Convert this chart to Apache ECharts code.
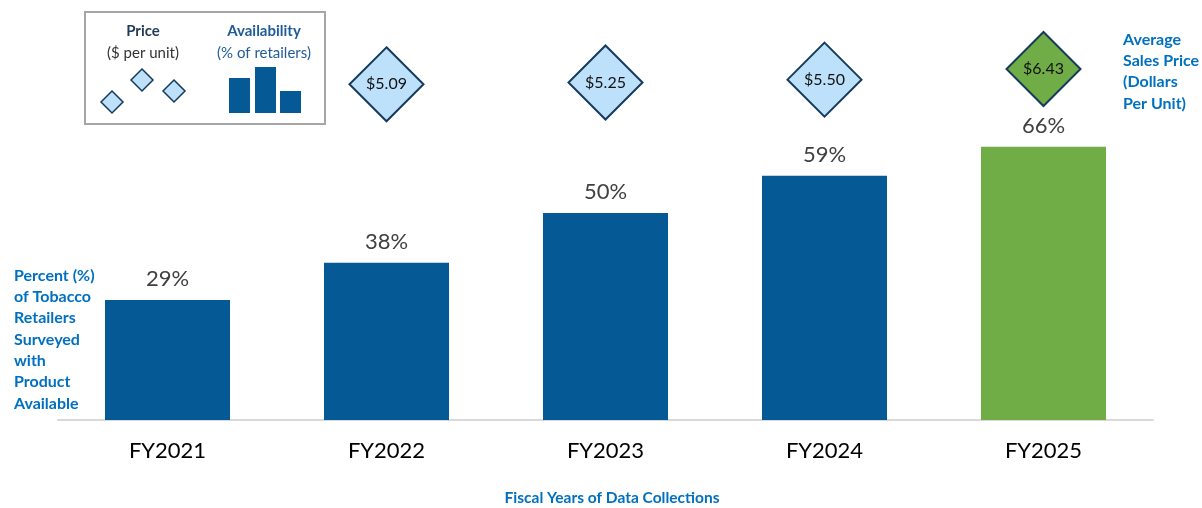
<!DOCTYPE html>
<html>
<head>
<meta charset="utf-8">
<script src="https://cdn.jsdelivr.net/npm/echarts@6/dist/echarts.min.js"></script>
<style>
  html, body { margin: 0; padding: 0; background: #fff; }
  #chart { width: 1202px; height: 508px; }
</style>
</head>
<body>
<div id="chart"></div>
<script>
// data
var years = ['FY2021', 'FY2022', 'FY2023', 'FY2024', 'FY2025'];
var availability = [29, 38, 50, 59, 66];
var prices = [null, 5.09, 5.25, 5.50, 6.43];

var BLUE = '#055A96';
var GREEN = '#70AD47';
var LIGHT = '#BDE1FB';
var NAVY = '#163A5C';
var LABEL_BLUE = '#0070C0';
var FONT = 'Lato, "Open Sans", sans-serif';

var last = years.length - 1;

var chart = echarts.init(document.getElementById('chart'));

chart.setOption({
  animation: false,
  textStyle: { fontFamily: FONT },
  grid: { left: 58, right: 49, top: 6, bottom: 88 },
  xAxis: {
    type: 'category',
    data: years,
    axisLine: { lineStyle: { color: '#D9D9D9', width: 2 } },
    axisTick: { show: false },
    axisLabel: { color: '#000', fontSize: 22, margin: 20, fontFamily: FONT }
  },
  yAxis: [
    { type: 'value', min: 0, max: 100, show: false },
    { type: 'value', min: -24.36, max: 11.96, show: false }
  ],
  series: [
    {
      type: 'bar',
      barWidth: 125,
      data: availability.map(function (v, i) {
        return { value: v, itemStyle: { color: i === last ? GREEN : BLUE } };
      }),
      label: {
        show: true,
        position: 'top',
        distance: 10,
        color: '#404040',
        fontSize: 22,
        fontFamily: FONT,
        formatter: '{c}%'
      }
    },
    {
      type: 'scatter',
      yAxisIndex: 1,
      symbol: 'diamond',
      symbolSize: 74,
      data: prices.map(function (v, i) {
        return { value: v, itemStyle: { color: i === last ? GREEN : LIGHT } };
      }),
      itemStyle: { borderColor: NAVY, borderWidth: 2, opacity: 1 },
      label: {
        show: true,
        position: 'inside',
        color: '#111',
        fontSize: 16,
        fontFamily: FONT,
        formatter: function (p) { return '$' + p.value.toFixed(2); }
      },
      z: 5
    }
  ],
  graphic: [
    // legend box
    { type: 'rect', shape: { x: 85, y: 12, width: 240, height: 112 },
      style: { fill: '#fff', stroke: '#A6A6A6', lineWidth: 2 } },
    { type: 'text', x: 143, y: 31, style: { text: 'Price', fill: '#1F3B5A', font: 'bold 15px ' + FONT, align: 'center', verticalAlign: 'middle' } },
    { type: 'text', x: 143, y: 53, style: { text: '($ per unit)', fill: '#333', font: '15px ' + FONT, align: 'center', verticalAlign: 'middle' } },
    { type: 'text', x: 264, y: 31, style: { text: 'Availability', fill: '#1F5C99', font: 'bold 15px ' + FONT, align: 'center', verticalAlign: 'middle' } },
    { type: 'text', x: 264, y: 53, style: { text: '(% of retailers)', fill: '#1F5C99', font: '15px ' + FONT, align: 'center', verticalAlign: 'middle' } },
    { type: 'polygon', shape: { points: [[112, 91], [123, 102], [112, 113], [101, 102]] }, style: { fill: LIGHT, stroke: NAVY, lineWidth: 1.5 } },
    { type: 'polygon', shape: { points: [[142, 69], [153, 80], [142, 91], [131, 80]] }, style: { fill: LIGHT, stroke: NAVY, lineWidth: 1.5 } },
    { type: 'polygon', shape: { points: [[174, 80], [185, 91], [174, 102], [163, 91]] }, style: { fill: LIGHT, stroke: NAVY, lineWidth: 1.5 } },
    { type: 'rect', shape: { x: 229, y: 78, width: 21, height: 35 }, style: { fill: BLUE } },
    { type: 'rect', shape: { x: 255, y: 67, width: 21, height: 46 }, style: { fill: BLUE } },
    { type: 'rect', shape: { x: 280, y: 91, width: 21, height: 22 }, style: { fill: BLUE } },
    // axis titles
    { type: 'text', left: 14, top: 265, style: {
        text: 'Percent (%)\nof Tobacco\nRetailers\nSurveyed\nwith\nProduct\nAvailable',
        fill: LABEL_BLUE, font: 'bold 16px ' + FONT, lineHeight: 21.3 } },
    { type: 'text', left: 1123, top: 29, style: {
        text: 'Average\nSales Price\n(Dollars\nPer Unit)',
        fill: LABEL_BLUE, font: 'bold 16px ' + FONT, lineHeight: 21.3 } },
    { type: 'text', x: 612, y: 498, style: {
        text: 'Fiscal Years of Data Collections',
        fill: LABEL_BLUE, font: 'bold 15.5px ' + FONT, align: 'center', verticalAlign: 'middle' } }
  ]
});
</script>
</body>
</html>
